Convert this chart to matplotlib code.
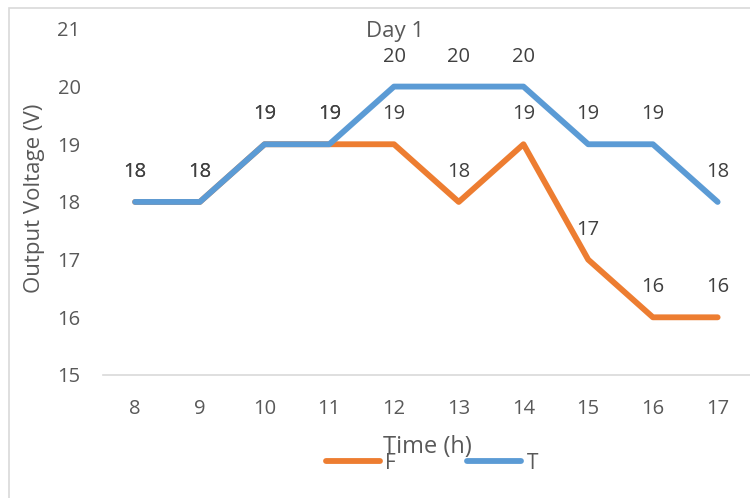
import matplotlib
matplotlib.use("Agg")
import matplotlib.pyplot as plt
from matplotlib.lines import Line2D
from matplotlib.patches import Rectangle

HOURS = [8, 9, 10, 11, 12, 13, 14, 15, 16, 17]
F_VOLTS = [18, 18, 19, 19, 19, 18, 19, 17, 16, 16]
T_VOLTS = [18, 18, 19, 19, 20, 20, 20, 19, 19, 18]
Y_TICKS = [15, 16, 17, 18, 19, 20, 21]

ORANGE, BLUE = "#ed7d31", "#5b9bd5"
TXT, LBL = "#595959", "#404040"
LW = 4.2

plt.rcParams["font.family"] = ["Open Sans", "DejaVu Sans"]

fig = plt.figure(figsize=(7.5, 4.98), dpi=100)
ax = fig.add_axes([0.137, 0.247, 0.863, 0.695])

x = list(range(len(HOURS)))
ax.plot(x, F_VOLTS, color=ORANGE, lw=LW, solid_joinstyle="round",
        solid_capstyle="round", zorder=2)
ax.plot(x, T_VOLTS, color=BLUE, lw=LW, solid_joinstyle="round",
        solid_capstyle="round", zorder=3)

for i in x:
    for v in (F_VOLTS[i], T_VOLTS[i]):
        ax.annotate(f"{v}", (i, v), xytext=(0, 21.5), textcoords="offset points",
                    ha="center", va="center", fontsize=14.5, color=LBL)

ax.set_xlim(-0.5, len(HOURS) - 0.5)
ax.set_ylim(15, 21)
ax.set_xticks(x)
ax.set_xticklabels([str(h) for h in HOURS])
ax.set_yticks(Y_TICKS)
ax.tick_params(length=0, labelsize=14.5, labelcolor=TXT)
ax.tick_params(axis="y", pad=16)
ax.tick_params(axis="x", pad=17)
for s in ("top", "right", "left"):
    ax.spines[s].set_visible(False)
ax.spines["bottom"].set_color("#d9d9d9")
ax.spines["bottom"].set_linewidth(1.2)

fig.text(35 / 750, 1 - 198 / 498, "Output Voltage (V)", rotation=90,
         ha="center", va="center", fontsize=16, color=TXT)
fig.text(395.5 / 750, 1 - 32 / 498, "Day 1", ha="center", va="center",
         fontsize=16, color=TXT)
fig.text(427.5 / 750, 1 - 447 / 498, "Time (h)", ha="center", va="center",
         fontsize=17, color=TXT)

handles = [Line2D([], [], color=ORANGE, lw=LW, solid_capstyle="round"),
           Line2D([], [], color=BLUE, lw=LW, solid_capstyle="round")]
fig.legend(handles, ["F", "T"], loc="center",
           bbox_to_anchor=(432 / 750, 1 - 463 / 498),
           ncol=2, frameon=False, fontsize=15, handlelength=2.6,
           handletextpad=0.25, columnspacing=3.4, labelcolor=TXT,
           borderpad=0, borderaxespad=0)

fig.patches.append(Rectangle((9 / 750, -0.1), 1.0, 1 - 8 / 498 + 0.1,
                             transform=fig.transFigure, fill=False,
                             edgecolor="#d9d9d9", lw=1.2))

fig.savefig("out.png", dpi=100)
